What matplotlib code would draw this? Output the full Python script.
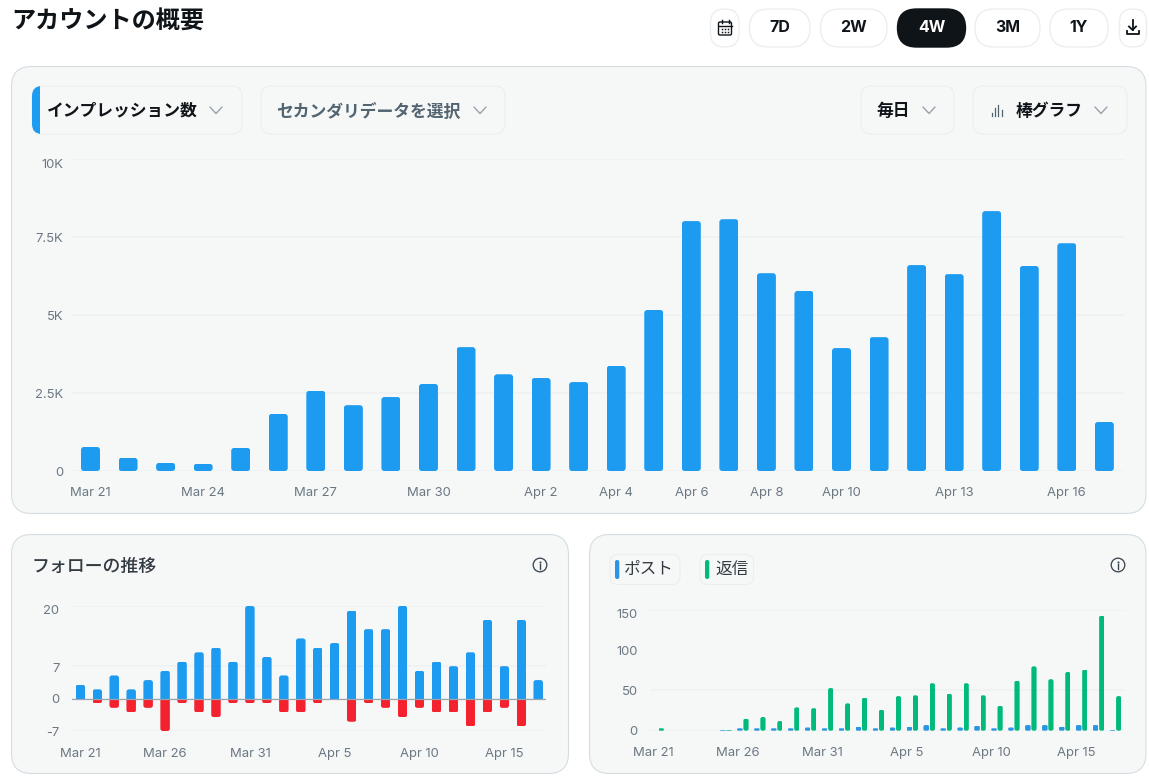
import matplotlib
matplotlib.use('Agg')
import matplotlib.pyplot as plt
import numpy as np
from matplotlib.patches import FancyBboxPatch, Circle, Rectangle
from matplotlib.transforms import IdentityTransform, ScaledTranslation

W, H = 1149, 779
BLUE = '#1d9bf0'
RED = '#f4212e'
GREEN = '#00ba7c'
POST_BLUE = '#2b95e3'
DARK = '#0f1419'
GREY = '#536471'
TICK = '#6b7782'
CARD = '#f6f8f8'
CARD_EDGE = '#d6dde2'
CHIP_EDGE = '#ebeef0'
GRID = '#edf0f2'

plt.rcParams['font.family'] = ['Inter', 'Noto Sans CJK JP', 'DejaVu Sans']

# daily impressions, Mar 21 .. Apr 17
impressions = [770, 420, 260, 230, 740, 1830, 2570, 2110, 2370, 2790, 3970, 3100, 2980, 2850,
               3370, 5160, 8010, 8070, 6340, 5770, 3940, 4290, 6600, 6310, 8330, 6570, 7300, 1570]
impression_ticks = {0: 'Mar 21', 3: 'Mar 24', 6: 'Mar 27', 9: 'Mar 30', 12: 'Apr 2', 14: 'Apr 4',
                    16: 'Apr 6', 18: 'Apr 8', 20: 'Apr 10', 23: 'Apr 13', 26: 'Apr 16'}
impression_y = [0, 2500, 5000, 7500, 10000]
impression_y_labels = ['0', '2.5K', '5K', '7.5K', '10K']

follows = [3, 2, 5, 2, 4, 6, 8, 10, 11, 8, 20, 9, 5, 13, 11, 12, 19, 15, 15, 20, 6, 8, 7, 10, 17, 7, 17, 4]
unfollows = [0, -1, -2, -3, -2, -7, -1, -3, -4, -1, -1, -1, -3, -3, -1, 0, -5, -1, -2, -4, -2, -3, -3, -6, -3, -2, -6, 0]
follow_y = [-7, 0, 7, 20]

posts = [0, 0, 0, 0, 1, 3, 3, 3, 3, 4, 3, 3, 5, 3, 4, 5, 7, 3, 4, 6, 3, 4, 7, 7, 5, 7, 7, 1]
replies = [3, 0, 0, 0, 1, 15, 17, 12, 29, 28, 53, 34, 41, 26, 43, 44, 59, 46, 59, 44, 31, 62, 80, 64, 73, 76, 143, 43]
activity_y = [0, 50, 100, 150]

small_ticks = {0: 'Mar 21', 5: 'Mar 26', 10: 'Mar 31', 15: 'Apr 5', 20: 'Apr 10', 25: 'Apr 15'}
buttons = [('7D', 749.5, 810), ('2W', 820.5, 887), ('4W', 897.5, 965.5), ('3M', 975, 1040), ('1Y', 1050, 1108)]


def round_box(ax, x0, y0, x1, y1, r, fc, ec='none', lw=0.8, zorder=1):
  box = FancyBboxPatch((x0 + r, y0 + r), x1 - x0 - 2 * r, y1 - y0 - 2 * r,
                       boxstyle=f'round,pad={r},rounding_size={r}',
                       fc=fc, ec=ec, lw=lw, zorder=zorder)
  ax.add_patch(box)
  return box


def chevron(ax, x, y, color='#97a3ac'):
  ax.plot([x - 6, x, x + 6], [y - 3, y + 3.5, y - 3], color=color, lw=1.0, solid_capstyle='round')


def info_icon(ax, x, y):
  ax.add_patch(Circle((x, y), 6.8, fc='none', ec='#3c4650', lw=0.95))
  ax.plot([x, x], [y - 0.8, y + 3.6], color='#3c4650', lw=1.0)
  ax.plot([x], [y - 3.4], marker='o', ms=1.5, color='#3c4650', mew=0)


def calendar_icon(ax, x, y):
  round_box(ax, x - 6.5, y - 6, x + 6.5, y + 7, 1.5, 'none', ec=DARK, lw=1.0, zorder=3)
  ax.plot([x - 6.5, x + 6.5], [y - 2.5, y - 2.5], color=DARK, lw=1.0)
  ax.plot([x - 3.5, x - 3.5], [y - 8, y - 5], color=DARK, lw=1.0)
  ax.plot([x + 3.5, x + 3.5], [y - 8, y - 5], color=DARK, lw=1.0)
  for dx in (-3, 0, 3):
    for dy in (0.5, 3.5):
      ax.plot([x + dx], [y + dy], marker='s', ms=1.1, color=DARK, mew=0)


def download_icon(ax, x, y):
  ax.plot([x, x], [y - 7.5, y + 3], color=DARK, lw=1.3)
  ax.plot([x - 3.5, x, x + 3.5], [y - 0.5, y + 3, y - 0.5], color=DARK, lw=1.3)
  ax.plot([x - 6, x - 6, x + 6, x + 6], [y + 3.5, y + 7, y + 7, y + 3.5], color=DARK, lw=1.3)


def bar_icon(ax, x, y):
  for dx, top in zip((-5, -2, 1, 4.5), (3, -2, -5, 0)):
    ax.plot([x + dx, x + dx], [y + 6, y + top], color=GREY, lw=0.9)


def draw_chrome(fig):
  ax = fig.add_axes([0, 0, 1, 1], zorder=0)
  ax.set_xlim(0, W)
  ax.set_ylim(H, 0)
  ax.axis('off')

  ax.text(11, 22, 'アカウントの概要', fontsize=17.4, fontweight='bold', color=DARK, va='center')

  # range buttons
  round_box(ax, 710.5, 9, 739, 47, 14, 'white', ec=CHIP_EDGE, lw=1.0)
  calendar_icon(ax, 725, 28)
  for label, x0, x1 in buttons:
    active = label == '4W'
    round_box(ax, x0, 9, x1, 47, 19, DARK if active else 'white', ec=DARK if active else CHIP_EDGE, lw=1.0)
    ax.text((x0 + x1) / 2, 27.5, label, fontsize=11.5, fontweight='bold', color='white' if active else DARK,
            ha='center', va='center')
  round_box(ax, 1119.5, 9, 1146.5, 47, 13, 'white', ec=CHIP_EDGE, lw=1.0)
  download_icon(ax, 1132.5, 27)

  # cards
  round_box(ax, 11.5, 66.5, 1146, 513.5, 20, CARD, ec=CARD_EDGE)
  round_box(ax, 11.5, 534.5, 568.5, 773.5, 20, CARD, ec=CARD_EDGE)
  round_box(ax, 589.5, 534.5, 1146, 773.5, 20, CARD, ec=CARD_EDGE)

  # dropdowns
  round_box(ax, 32, 86, 242, 134, 10, CARD, ec=CHIP_EDGE, zorder=2)
  stripe = round_box(ax, 32, 86, 60, 134, 10, BLUE, zorder=3)
  stripe.set_clip_path(Rectangle((32, 86), 8, 48, transform=ax.transData))
  round_box(ax, 261, 86, 505, 134, 10, CARD, ec=CHIP_EDGE, zorder=2)
  round_box(ax, 861, 86, 954, 134, 10, CARD, ec=CHIP_EDGE, zorder=2)
  round_box(ax, 973, 86, 1127, 134, 10, CARD, ec=CHIP_EDGE, zorder=2)
  ax.text(47, 111, 'インプレッション数', fontsize=12.1, fontweight='bold', color=DARK, va='center')
  ax.text(276, 111, 'セカンダリデータを選択', fontsize=12.1, fontweight='bold', color=GREY, va='center')
  ax.text(876.5, 111, '毎日', fontsize=12.1, fontweight='bold', color=DARK, va='center')
  ax.text(1016, 111, '棒グラフ', fontsize=12.1, fontweight='bold', color=DARK, va='center')
  for x in (216, 480, 929, 1101):
    chevron(ax, x, 110)
  bar_icon(ax, 997, 110)

  # lower cards headers
  ax.text(32, 567.5, 'フォローの推移', fontsize=12.9, fontweight='medium', color='#333b42', va='center')
  info_icon(ax, 540, 565)
  info_icon(ax, 1118, 565)
  round_box(ax, 610, 554.5, 680, 584.5, 8, CARD, ec=CHIP_EDGE, zorder=2)
  round_box(ax, 700, 554.5, 753.5, 584.5, 8, CARD, ec=CHIP_EDGE, zorder=2)
  round_box(ax, 615, 560, 619.3, 579, 2, POST_BLUE, zorder=3)
  round_box(ax, 705, 560, 709.3, 579, 2, GREEN, zorder=3)
  ax.text(624, 569, 'ポスト', fontsize=12, color='#333b42', va='center')
  ax.text(715, 569, '返信', fontsize=12, color='#333b42', va='center')


def px_axes(fig, x0, x1, y_top, y_bottom, first_bar, spacing, ylim):
  ax = fig.add_axes([x0 / W, 1 - y_bottom / H, (x1 - x0) / W, (y_bottom - y_top) / H], zorder=2)
  ax.patch.set_alpha(0)
  ax.set_xlim((x0 - first_bar) / spacing, (x1 - first_bar) / spacing)
  ax.set_ylim(*ylim)
  for spine in ax.spines.values():
    spine.set_visible(False)
  ax.tick_params(length=0, labelcolor=TICK, labelsize=9.4)
  ax.grid(axis='y', color=GRID, lw=1.1, zorder=0)
  ax.set_axisbelow(True)
  return ax


# round bar corners by clipping the real rectangles, so heights stay exact
def round_bars(ax, bars, radius, square_base=False):
  for rect in bars:
    pts = ax.transData.transform(rect.get_bbox().get_points())
    x0, x1 = sorted(pts[:, 0])
    y0, y1 = sorted(pts[:, 1])
    if y1 - y0 < 0.01:
      rect.set_visible(False)
      continue
    r = min(radius, (y1 - y0) / 2, (x1 - x0) / 2)
    if square_base:
      r = min(radius, (x1 - x0) / 2)
      if rect.get_height() >= 0:
        y0 -= 2 * r
      else:
        y1 += 2 * r
    clip = FancyBboxPatch((x0 + r, y0 + r), x1 - x0 - 2 * r, y1 - y0 - 2 * r,
                          boxstyle=f'round,pad={r},rounding_size={r}', transform=IdentityTransform())
    rect.set_clip_path(clip)


def set_ticks(ax, ticks, y_values, y_labels, y_shift, pad_x, pad_y, shift=0):
  ax.set_xticks([i + shift for i in ticks], list(ticks.values()))
  ax.set_yticks(y_values, y_labels)
  ax.tick_params(axis='x', pad=pad_x)
  ax.tick_params(axis='y', pad=pad_y)
  fig = ax.figure
  for label, dy in zip(ax.get_yticklabels(), y_shift):
    label.set_transform(label.get_transform() + ScaledTranslation(0, -dy / 100, fig.dpi_scale_trans))


def main():
  fig = plt.figure(figsize=(W / 100, H / 100), dpi=100, facecolor='white')
  draw_chrome(fig)
  days = np.arange(len(impressions))

  ax_main = px_axes(fig, 71, 1124, 159, 471, 90.5, 37.55, (0, 10000))
  main_bars = ax_main.bar(days, impressions, width=19 / 37.55, color=BLUE, zorder=3)
  round_bars(ax_main, main_bars, 3)
  set_ticks(ax_main, impression_ticks, impression_y, impression_y_labels, [0, 0, 0, 1, 4], 11.5, 5.5)

  ax_follow = px_axes(fig, 72, 546, 606, 731, 80.3, 16.96, (-7, 20))
  up = ax_follow.bar(days, follows, width=9.5 / 16.96, color=BLUE, zorder=3)
  down = ax_follow.bar(days, unfollows, width=9.5 / 16.96, color=RED, zorder=3)
  round_bars(ax_follow, up, 2.5, square_base=True)
  round_bars(ax_follow, down, 2.5, square_base=True)
  ax_follow.axhline(0, color='#9aa5ae', lw=0.9, zorder=4)
  set_ticks(ax_follow, small_ticks, follow_y, ['-7', '0', '7', '20'], [0, 0, 1, 4], 12, 9)

  ax_activity = px_axes(fig, 650, 1124.5, 610, 730.7, 655.2, 16.94, (0, 150))
  post_bars = ax_activity.bar(days, posts, width=5.6 / 16.94, color=POST_BLUE, zorder=3)
  reply_bars = ax_activity.bar(days + 0.36, replies, width=5.2 / 16.94, color=GREEN, zorder=3)
  round_bars(ax_activity, post_bars, 1.5)
  round_bars(ax_activity, reply_bars, 2)
  set_ticks(ax_activity, small_ticks, activity_y, ['0', '50', '100', '150'], [0, 0, 0, 3], 12, 9, shift=-0.13)
  # 100 has a label but no visible rule
  ax_activity.get_ygridlines()[2].set_visible(False)

  fig.savefig('out.png', dpi=100)


if __name__ == '__main__':
  main()
